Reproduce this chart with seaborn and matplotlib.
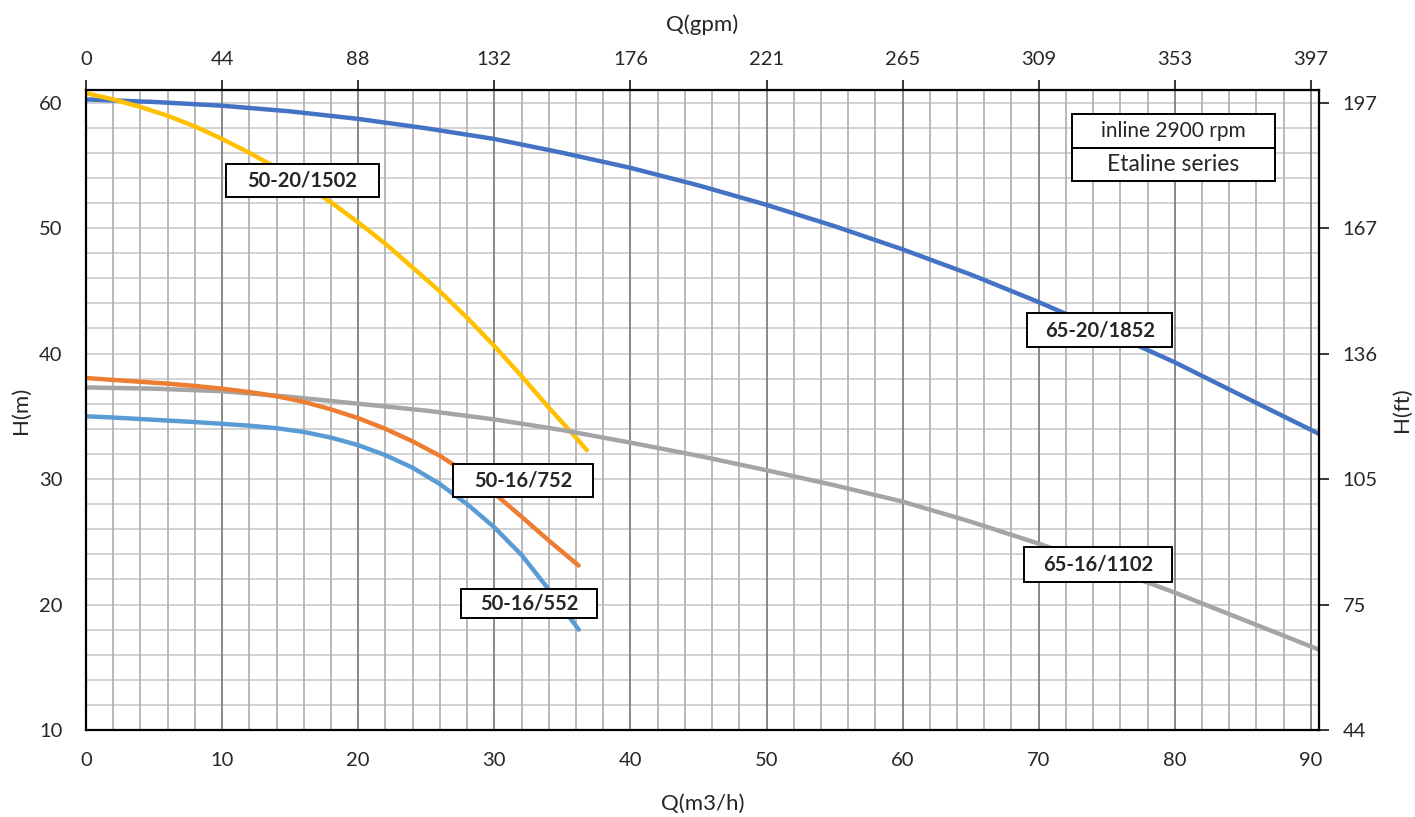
import numpy as np
import pandas as pd
import matplotlib.pyplot as plt
import seaborn as sns
from matplotlib.patches import Rectangle

# pump curves, Q in m3/h, H in m
q_6520_1852 = [0, 5, 10, 15, 20, 25, 30, 35, 40, 45, 50, 55, 60, 65, 70, 75, 80, 85, 90.6]
h_6520_1852 = [60.25, 60.05, 59.75, 59.3, 58.7, 57.95, 57.1, 56.0, 54.8, 53.4, 51.85, 50.15,
               48.3, 46.3, 44.1, 41.75, 39.3, 36.6, 33.6]

q_5020_1502 = [0, 2, 4, 6, 8, 10, 12, 14, 16, 18, 20, 22, 24, 26, 28, 30, 32, 34, 36, 36.8]
h_5020_1502 = [60.75, 60.25, 59.65, 58.95, 58.1, 57.1, 56.0, 54.8, 53.5, 52.05, 50.45, 48.75,
               46.85, 44.95, 42.85, 40.6, 38.2, 35.7, 33.3, 32.3]

q_6516_1102 = [0, 5, 10, 15, 20, 25, 30, 35, 40, 45, 50, 55, 60, 65, 70, 75, 80, 85, 90.6]
h_6516_1102 = [37.3, 37.2, 37.0, 36.55, 36.0, 35.45, 34.75, 33.9, 32.9, 31.85, 30.7, 29.5,
               28.2, 26.6, 24.85, 22.95, 20.95, 18.8, 16.4]

q_5016_752 = [0, 2, 4, 6, 8, 10, 12, 14, 16, 18, 20, 22, 24, 26, 28, 30, 32, 34, 36.2]
h_5016_752 = [38.05, 37.9, 37.75, 37.6, 37.42, 37.2, 36.93, 36.6, 36.15, 35.55, 34.85, 34.0,
              33.0, 31.85, 30.45, 28.85, 27.0, 25.1, 23.1]

q_5016_552 = [0, 2, 4, 6, 8, 10, 12, 14, 16, 18, 20, 22, 24, 26, 28, 30, 32, 34, 36.2]
h_5016_552 = [35.0, 34.9, 34.78, 34.66, 34.54, 34.4, 34.25, 34.05, 33.75, 33.3, 32.7, 31.9,
              30.9, 29.6, 28.0, 26.15, 23.95, 21.2, 18.0]

models = ["65-20/1852", "50-20/1502", "65-16/1102", "50-16/752", "50-16/552"]

q_ticks = [0, 10, 20, 30, 40, 50, 60, 70, 80, 90]
gpm_labels = ["0", "44", "88", "132", "176", "221", "265", "309", "353", "397"]
h_ticks = [10, 20, 30, 40, 50, 60]
ft_labels = ["44", "75", "105", "136", "167", "197"]

title_lines = ["inline 2900 rpm", "Etaline series"]


def build_frame():
    series = [
        (q_6520_1852, h_6520_1852),
        (q_5020_1502, h_5020_1502),
        (q_6516_1102, h_6516_1102),
        (q_5016_752, h_5016_752),
        (q_5016_552, h_5016_552),
    ]
    parts = []
    for name, (q, h) in zip(models, series):
        parts.append(pd.DataFrame({"Q": q, "H": h, "model": name}))
    return pd.concat(parts, ignore_index=True)


def boxed_label(ax, x, y, w, h, text, size=14.5, weight="bold"):
    ax.add_patch(Rectangle((x - w / 2, y - h / 2), w, h, facecolor="white",
                           edgecolor="black", linewidth=1.4, zorder=5))
    ax.text(x, y, text, ha="center", va="center", fontsize=size,
            fontweight=weight, zorder=6)


def main():
    sns.set_style("white")
    plt.rcParams["font.family"] = ["Lato", "DejaVu Sans"]

    df = build_frame()
    palette = {
        "65-20/1852": "#4472C4",
        "50-20/1502": "#FFC000",
        "65-16/1102": "#A5A5A5",
        "50-16/752": "#ED7D31",
        "50-16/552": "#5B9BD5",
    }

    fig = plt.figure(figsize=(14.15, 8.17), dpi=100)
    ax = fig.add_axes([0.0608, 0.1065, 0.8714, 0.7833])

    # grid first so the curves sit on top
    ax.set_xlim(0, 90.6)
    ax.set_ylim(10, 61)
    for v in np.arange(0, 91, 2):
        major = v % 10 == 0
        ax.axvline(v, color="#7f7f7f" if major else "#b3b3b3",
                   lw=1.3, zorder=1)
    for v in np.arange(10, 61, 2):
        ax.axhline(v, color="#cfcfcf", lw=1.3, zorder=0.9)

    sns.lineplot(data=df, x="Q", y="H", hue="model", palette=palette,
                 sort=False, estimator=None, legend=False, lw=3.2,
                 ax=ax, zorder=3)

    ax.set_xticks(q_ticks)
    ax.set_yticks(h_ticks)
    ax.tick_params(axis="both", direction="out", length=7, width=1.3,
                   labelsize=14.5, color="black")
    ax.tick_params(axis="x", pad=9)
    ax.tick_params(axis="y", pad=10)
    for s in ax.spines.values():
        s.set_color("black")
        s.set_linewidth(1.6)
        s.set_zorder(7)

    ax.set_xlabel("Q(m3/h)", fontsize=16, labelpad=18)
    ax.set_ylabel("H(m)", fontsize=16, labelpad=6)

    top = ax.secondary_xaxis("top")
    top.set_xticks(q_ticks, labels=gpm_labels)
    top.tick_params(direction="out", length=7, width=1.3, labelsize=14.5, pad=9)
    top.set_xlabel("Q(gpm)", fontsize=16, labelpad=14)

    right = ax.secondary_yaxis("right")
    right.set_yticks(h_ticks, labels=ft_labels)
    right.tick_params(direction="out", length=7, width=1.3, labelsize=14.5, pad=10)
    right.set_ylabel("H(ft)", fontsize=16, labelpad=10)

    # curve labels
    boxed_label(ax, 15.9, 53.8, 11.2, 2.65, "50-20/1502")
    boxed_label(ax, 74.5, 41.85, 10.65, 2.7, "65-20/1852")
    boxed_label(ax, 32.1, 29.9, 10.3, 2.65, "50-16/752")
    boxed_label(ax, 32.55, 20.1, 10.0, 2.35, "50-16/552")
    boxed_label(ax, 74.35, 23.2, 10.9, 2.75, "65-16/1102")

    # series caption, two stacked boxes
    boxed_label(ax, 79.9, 57.77, 14.9, 2.7, title_lines[0], size=15, weight="normal")
    boxed_label(ax, 79.9, 55.07, 14.9, 2.7, title_lines[1], size=16.5, weight="normal")

    fig.savefig("out.png", dpi=100)


if __name__ == "__main__":
    main()
